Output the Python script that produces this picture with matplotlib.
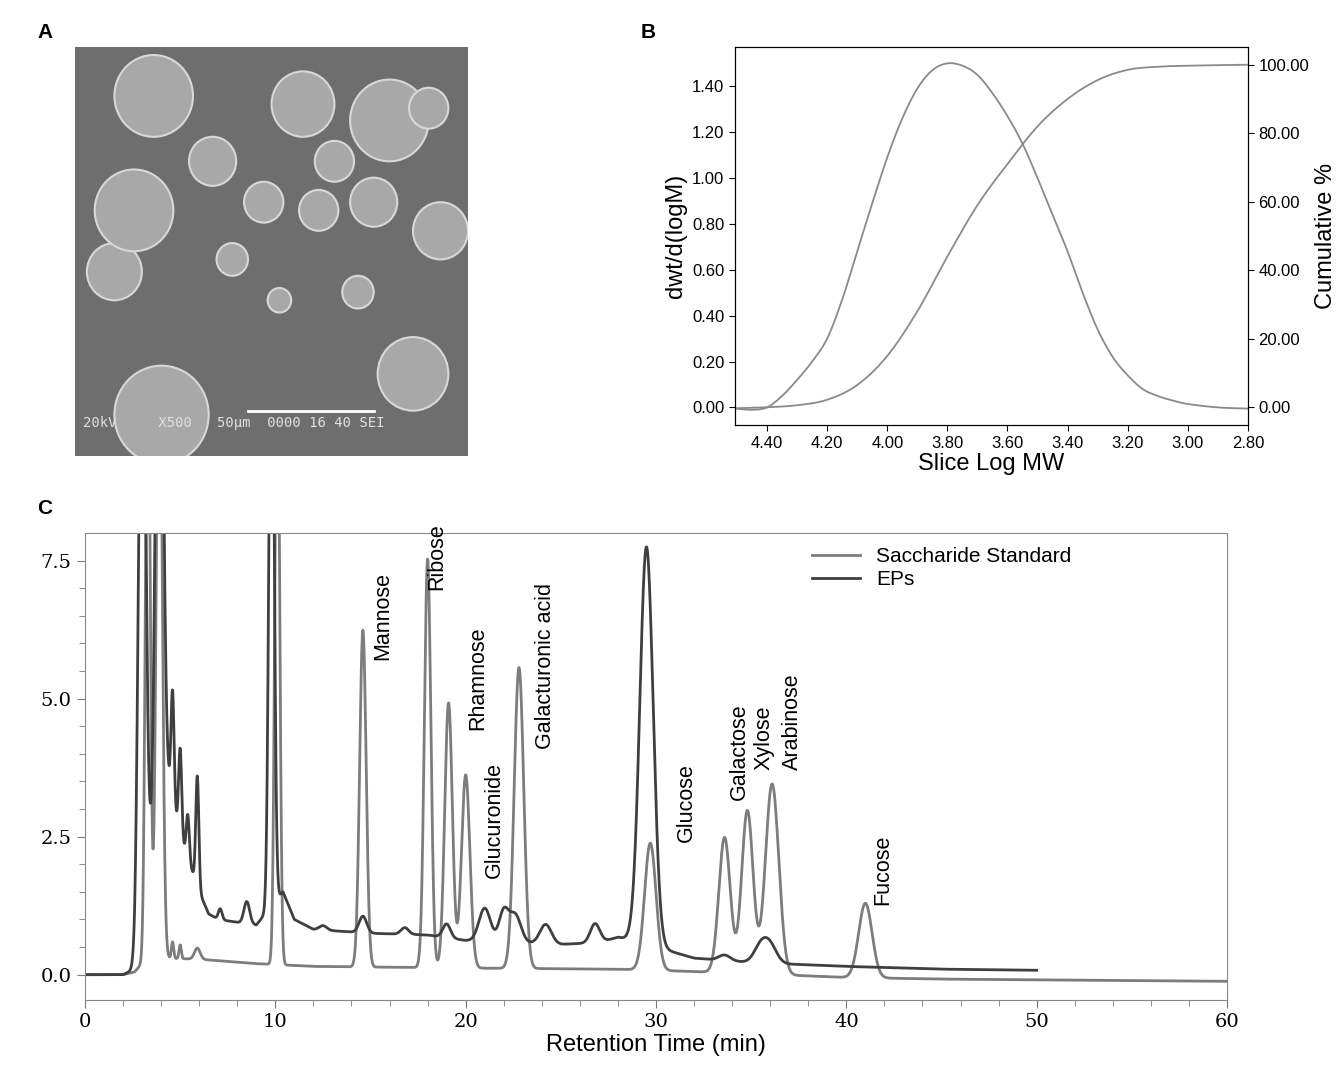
import numpy as np
import matplotlib
matplotlib.use("Agg")
import matplotlib.pyplot as plt
from matplotlib.patches import Circle

plt.rcParams['font.family'] = ['Liberation Sans', 'DejaVu Sans']

# ---------------- Panel B data ----------------
b_logmw = [4.507, 4.45, 4.40, 4.35, 4.30, 4.25, 4.20, 4.15, 4.10, 4.05, 4.00, 3.95, 3.90, 3.85,
           3.80, 3.75, 3.70, 3.65, 3.60, 3.55, 3.50, 3.45, 3.40, 3.35, 3.30, 3.25, 3.20, 3.15,
           3.10, 3.05, 3.00, 2.90, 2.80]
b_dwt = [-0.005, -0.01, 0.0, 0.05, 0.12, 0.20, 0.30, 0.47, 0.68, 0.89, 1.09, 1.26, 1.39, 1.47,
         1.50, 1.49, 1.45, 1.37, 1.27, 1.15, 1.00, 0.84, 0.68, 0.50, 0.34, 0.22, 0.14, 0.08,
         0.05, 0.03, 0.015, 0.0, -0.005]
b_cum_x = [4.507, 4.40, 4.30, 4.20, 4.10, 4.00, 3.90, 3.80, 3.70, 3.60, 3.50, 3.40, 3.30,
           3.20, 3.10, 3.00, 2.80]
b_cum = [-0.3, 0.0, 0.6, 2.2, 6.5, 15, 28, 44, 59, 71, 82, 90, 95.5, 98.5, 99.4, 99.7, 100]
b_xticks = [4.40, 4.20, 4.00, 3.80, 3.60, 3.40, 3.20, 3.00, 2.80]
b_lticks = [0.0, 0.2, 0.4, 0.6, 0.8, 1.0, 1.2, 1.4]
b_rticks = [0, 20, 40, 60, 80, 100]

# ---------------- Panel C data (peak tables) ----------------
std_base_t = [0, 2.0, 2.6, 3.0, 4.0, 6.0, 9.0, 12, 20, 28, 30, 35, 40, 45, 60]
std_base_y = [0, 0, 0.05, 0.2, 0.3, 0.28, 0.2, 0.15, 0.12, 0.1, 0.08, 0.02, -0.05, -0.08, -0.12]
std_pk_t = [3.3, 3.9, 4.6, 5.0, 5.9, 10.1, 14.6, 18.0, 19.1, 20.0, 22.8, 29.7, 33.6, 34.8, 36.1, 41.0]
std_pk_h = [12, 12, 0.3, 0.25, 0.2, 12, 6.1, 7.4, 4.8, 3.5, 5.45, 2.3, 2.45, 2.95, 3.45, 1.35]
std_pk_w = [0.12, 0.15, 0.06, 0.06, 0.15, 0.12, 0.17, 0.17, 0.2, 0.22, 0.25, 0.3, 0.3, 0.3, 0.35, 0.35]

eps_base_t = [0, 2.0, 2.6, 4.2, 5.0, 6.0, 6.5, 7.0, 9.0, 10.4, 11.0, 12.0, 15, 18, 20, 25, 27.0, 28.0, 29.0, 31, 32, 35, 40, 45, 50]
eps_base_y = [0, 0, 0.1, 3.8, 2.5, 1.5, 1.1, 1.0, 0.9, 1.5, 1.0, 0.82, 0.75, 0.72, 0.62, 0.55, 0.58, 0.68, 0.6, 0.4, 0.3, 0.22, 0.15, 0.1, 0.08]
eps_pk_t = [3.0, 3.9, 4.6, 5.0, 5.4, 5.9, 7.1, 8.5, 9.8, 12.5, 14.6, 16.8, 19.0, 21.0, 22.0, 22.6, 24.2, 26.8, 29.5, 33.6, 35.5, 36.0]
eps_pk_h = [12, 12, 2.0, 1.6, 0.8, 2.0, 0.2, 0.4, 12, 0.08, 0.3, 0.12, 0.25, 0.6, 0.55, 0.5, 0.35, 0.35, 7.2, 0.1, 0.3, 0.3]
eps_pk_w = [0.18, 0.18, 0.08, 0.08, 0.08, 0.08, 0.1, 0.15, 0.13, 0.2, 0.2, 0.2, 0.2, 0.3, 0.25, 0.3, 0.3, 0.25, 0.35, 0.3, 0.35, 0.35]

sugar_names = ["Mannose", "Ribose", "Rhamnose", "Glucuronide", "Galacturonic acid", "Glucose",
               "Galactose", "Xylose", "Arabinose", "Fucose"]
sugar_label_t = [15.66, 18.5, 20.65, 21.5, 24.2, 31.6, 34.4, 35.7, 37.15, 41.9]
sugar_label_y = [5.7, 6.97, 4.44, 1.76, 4.08, 2.41, 3.17, 3.71, 3.71, 1.27]

# ---------------- Panel A decoration data ----------------
particle_x = [0.20, 0.58, 0.80, 0.93, 0.48, 0.62, 0.35, 0.72, 0.10, 0.86, 0.52, 0.22, 0.66, 0.40, 0.90, 0.15, 0.76]
particle_y = [0.88, 0.86, 0.82, 0.55, 0.62, 0.60, 0.72, 0.40, 0.45, 0.20, 0.38, 0.10, 0.72, 0.48, 0.85, 0.60, 0.62]
particle_r = [0.10, 0.08, 0.10, 0.07, 0.05, 0.05, 0.06, 0.04, 0.07, 0.09, 0.03, 0.12, 0.05, 0.04, 0.05, 0.10, 0.06]


def smooth(xs, ys, n=20):
    """Catmull-Rom spline through the read points."""
    x = np.asarray(xs, float); y = np.asarray(ys, float)
    P = np.column_stack([x, y])
    P = np.vstack([P[0], P, P[-1]])
    out = []
    s = np.linspace(0, 1, n, endpoint=False)[:, None]
    for i in range(1, len(P) - 2):
        p0, p1, p2, p3 = P[i - 1], P[i], P[i + 1], P[i + 2]
        seg = 0.5 * ((2 * p1) + (-p0 + p2) * s + (2 * p0 - 5 * p1 + 4 * p2 - p3) * s ** 2
                     + (-p0 + 3 * p1 - 3 * p2 + p3) * s ** 3)
        out.append(seg)
    out.append(P[-2][None, :])
    out = np.vstack(out)
    return out[:, 0], out[:, 1]


fig = plt.figure(figsize=(13.41, 10.9), dpi=100)

# ---------------- Panel A ----------------
axA = fig.add_axes([0.056, 0.582, 0.293, 0.375])
axA.set_facecolor('#6e6e6e')
axA.set_xlim(0, 1); axA.set_ylim(0, 1)
for x, y, r in zip(particle_x, particle_y, particle_r):
    axA.add_patch(Circle((x, y), r, facecolor='#a8a8a8', edgecolor='#d8d8d8', lw=1.5))
axA.plot([0.44, 0.76], [0.11, 0.11], color='white', lw=2)
axA.text(0.02, 0.07, "20kV     X500   50\u03bcm  0000 16 40 SEI", color='#e0e0e0',
         fontsize=10, family='DejaVu Sans Mono', transform=axA.transAxes)
axA.set_xticks([]); axA.set_yticks([])
for s in axA.spines.values():
    s.set_visible(False)
fig.text(0.028, 0.965, "A", fontsize=15, fontweight='bold')

# ---------------- Panel B ----------------
axB = fig.add_axes([0.548, 0.610, 0.3826, 0.347])
sx, sy = smooth(b_logmw, b_dwt)
axB.plot(sx, sy, color='#8a8a8a', lw=1.3)
axB.set_xlim(4.507, 2.80)
axB.set_ylim(-0.077, 1.572)
axB.set_xticks(b_xticks)
axB.set_xticklabels([f"{v:.2f}" for v in b_xticks])
axB.set_yticks(b_lticks)
axB.set_yticklabels([f"{v:.2f}" for v in b_lticks])
axB.tick_params(labelsize=12, length=4)
axB.set_xlabel("Slice Log MW", fontsize=17, labelpad=2)
axB.set_ylabel("dwt/d(logM)", fontsize=17)
axB2 = axB.twinx()
cx, cy = smooth(b_cum_x, b_cum)
axB2.plot(cx, cy, color='#8a8a8a', lw=1.3)
axB2.set_ylim(-5.2, 105.2)
axB2.set_yticks(b_rticks)
axB2.set_yticklabels([f"{v:.2f}" for v in b_rticks])
axB2.tick_params(labelsize=12, length=4)
axB2.set_ylabel("Cumulative %", fontsize=17)
fig.text(0.478, 0.965, "B", fontsize=15, fontweight='bold')

# ---------------- Panel C ----------------
t = np.linspace(0, 60, 6001)
def trace(bt, by, pt, ph, pw):
    y = np.interp(t, bt, by)
    for c, h, w in zip(pt, ph, pw):
        y = y + h * np.exp(-0.5 * ((t - c) / w) ** 2)
    return y

std_y = trace(std_base_t, std_base_y, std_pk_t, std_pk_h, std_pk_w)
eps_mask = t <= 50
eps_y = trace(eps_base_t, eps_base_y, eps_pk_t, eps_pk_h, eps_pk_w)

axC = fig.add_axes([0.0634, 0.083, 0.8516, 0.428])
axC.plot(t, std_y, color='#7d7d7d', lw=2, label='Saccharide Standard')
axC.plot(t[eps_mask], eps_y[eps_mask], color='#3f3f3f', lw=2, label='EPs')
axC.set_xlim(0, 60)
axC.set_ylim(-0.45, 8.0)
axC.set_yticks([0.0, 2.5, 5.0, 7.5])
axC.set_yticks(np.arange(0, 8.0, 0.5), minor=True)
axC.set_xticks([0, 10, 20, 30, 40, 50, 60])
axC.set_xticks(np.arange(0, 61, 2), minor=True)
for lab in axC.get_xticklabels() + axC.get_yticklabels():
    lab.set_family(['DejaVu Serif'])
axC.tick_params(labelsize=14, length=6, color='#777777')
axC.tick_params(which='minor', length=4, color='#777777')
for s in axC.spines.values():
    s.set_color('#888888')
axC.set_xlabel("Retention Time (min)", fontsize=17, labelpad=2)
for name, x, y in zip(sugar_names, sugar_label_t, sugar_label_y):
    axC.text(x, y, name, rotation=90, ha='center', va='bottom', fontsize=15.5)
axC.legend(loc='upper left', bbox_to_anchor=(0.62, 1.01), frameon=False, fontsize=15,
           handlelength=2.3, labelspacing=0.2)
fig.text(0.028, 0.528, "C", fontsize=15, fontweight='bold')

fig.savefig("out.png", dpi=100)
